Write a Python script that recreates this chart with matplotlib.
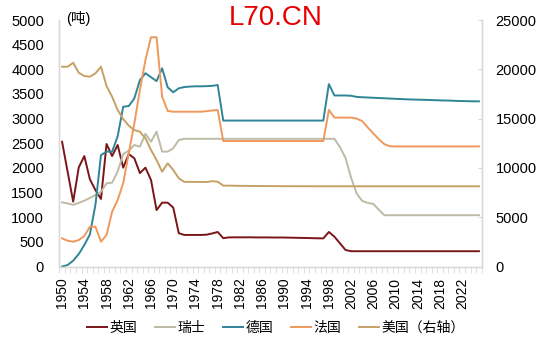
import matplotlib
matplotlib.use("Agg")
import matplotlib.pyplot as plt
import numpy as np

plt.rcParams['font.family'] = ['Liberation Sans', 'Noto Sans CJK SC', 'DejaVu Sans']

years = list(range(1950, 2026))

uk = [2530, 1920, 1315, 2010, 2240, 1770, 1550, 1370, 2485, 2240,
      2465, 2005, 2280, 2195, 1895, 2005, 1755, 1145, 1295, 1295,
      1195, 675, 640, 640, 640, 640, 645, 670, 700, 575,
      590, 592, 592, 592, 592, 590, 590, 590, 588, 588,
      588, 585, 583, 580, 578, 575, 572, 570, 700, 605,
      470, 335, 310, 310, 310, 310, 310, 310, 310, 310,
      310, 310, 310, 310, 310, 310, 310, 310, 310, 310,
      310, 310, 310, 310, 310, 310]

swiss = [1300, 1280, 1250, 1290, 1335, 1390, 1450, 1517, 1687, 1700,
         1925, 2280, 2350, 2465, 2430, 2690, 2530, 2735, 2330, 2330,
         2400, 2565, 2590, 2590, 2590, 2590, 2590, 2590, 2590, 2590,
         2590, 2590, 2590, 2590, 2590, 2590, 2590, 2590, 2590, 2590,
         2590, 2590, 2590, 2590, 2590, 2590, 2590, 2590, 2590, 2590,
         2420, 2200, 1800, 1480, 1330, 1290, 1270, 1150, 1040, 1040,
         1040, 1040, 1040, 1040, 1040, 1040, 1040, 1040, 1040, 1040,
         1040, 1040, 1040, 1040, 1040, 1040]

germany = [0, 30, 118, 253, 436, 650, 1250, 2260, 2330, 2330,
           2640, 3240, 3255, 3410, 3780, 3920, 3840, 3760, 4020, 3635,
           3535, 3615, 3640, 3650, 3655, 3655, 3658, 3665, 3680, 2960,
           2960, 2960, 2960, 2960, 2960, 2960, 2960, 2960, 2960, 2960,
           2960, 2960, 2960, 2960, 2960, 2960, 2960, 2960, 3700, 3469,
           3469, 3469, 3463, 3440, 3433, 3428, 3423, 3417, 3412, 3407,
           3401, 3396, 3391, 3387, 3384, 3381, 3378, 3374, 3370, 3367,
           3364, 3359, 3355, 3353, 3351, 3350]

france = [572, 523, 503, 537, 618, 807, 807, 503, 640, 1110,
          1350, 1690, 2300, 2900, 3580, 4190, 4650, 4650, 3445, 3155,
          3140, 3140, 3140, 3140, 3140, 3140, 3150, 3165, 3175, 2545,
          2545, 2545, 2545, 2545, 2545, 2545, 2545, 2545, 2545, 2545,
          2545, 2545, 2545, 2545, 2545, 2545, 2545, 2545, 3175, 3020,
          3020, 3020, 3020, 3000, 2950, 2820, 2700, 2580, 2480, 2440,
          2435, 2435, 2435, 2435, 2435, 2435, 2435, 2435, 2435, 2435,
          2435, 2435, 2435, 2435, 2435, 2437]

usa = [20260, 20260, 20665, 19650, 19320, 19245, 19590, 20260, 18300, 17220,
       15870, 14955, 14280, 13840, 13670, 13000, 11815, 10800, 9615, 10465,
       9785, 8945, 8580, 8580, 8580, 8575, 8575, 8650, 8600, 8200,
       8200, 8190, 8180, 8175, 8170, 8165, 8160, 8155, 8150, 8150,
       8145, 8145, 8140, 8140, 8140, 8140, 8138, 8138, 8137, 8137,
       8137, 8137, 8136, 8136, 8135, 8135, 8135, 8134, 8134, 8134,
       8134, 8134, 8134, 8134, 8134, 8134, 8134, 8134, 8134, 8134,
       8134, 8134, 8134, 8134, 8134, 8134]

left_series = [("英国", uk, "#7A1518"),
               ("瑞士", swiss, "#BDBBA6"),
               ("德国", germany, "#2F8496"),
               ("法国", france, "#F0985C")]
right_label = "美国（右轴）"
right_color = "#C6A165"

fig = plt.figure(figsize=(5.5, 3.47), dpi=100)
ax = fig.add_axes([59.3 / 550, 1 - 266.5 / 347, (481.7 - 59.3) / 550, (266.5 - 20) / 347])
ax2 = ax.twinx()

x = np.arange(len(years))
handles = []
for name, vals, col in left_series:
    h, = ax.plot(x, vals, color=col, lw=1.4, label=name)
    handles.append(h)
hu, = ax2.plot(x, usa, color=right_color, lw=1.4, label=right_label)
handles.append(hu)

ax.set_xlim(-0.5, len(years) - 0.5)
ax.set_ylim(0, 5000)
ax2.set_ylim(0, 25000)
ax.set_yticks(np.arange(0, 5001, 500))
ax2.set_yticks(np.arange(0, 25001, 5000))

label_idx = [i for i, y in enumerate(years) if (y - 1950) % 4 == 0]
ax.set_xticks(label_idx)
ax.set_xticklabels([str(years[i]) for i in label_idx], rotation=90)
ax.set_xticks(np.arange(-0.5, len(years)), minor=True)

grey = "#D9D9D9"
for a in (ax, ax2):
    a.spines['top'].set_visible(False)
    for s in ('left', 'right', 'bottom'):
        a.spines[s].set_color(grey)
        a.spines[s].set_linewidth(1.0)

ax.tick_params(axis='x', which='major', length=0, pad=8, labelsize=10)
ax.tick_params(axis='x', which='minor', length=4, color=grey, direction='out')
ax.tick_params(axis='y', length=0, pad=11, labelsize=10.5)
ax2.tick_params(axis='y', length=3, direction='in', color=grey, pad=10, labelsize=10.5)

fig.text(66 / 550, 1 - 19 / 347, "(吨)", fontsize=10.5, ha='left', va='center')
fig.text(276 / 550, 1 - 18 / 347, "L70.CN", fontsize=20, color="#E60000",
         ha='center', va='center')

fig.legend(handles=handles, loc='center', bbox_to_anchor=(276 / 550, 1 - 328 / 347),
           ncol=5, frameon=False, fontsize=10, handlelength=1.4,
           handletextpad=0.2, columnspacing=1.3)

fig.savefig("out.png", dpi=100)
